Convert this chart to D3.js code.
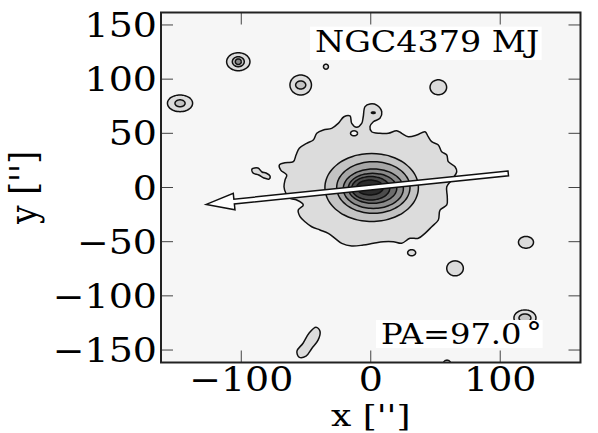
<!DOCTYPE html>
<html><head><meta charset="utf-8">
<script src="https://cdn.jsdelivr.net/npm/d3@7"></script>
<style>html,body{margin:0;padding:0;background:#fff;} svg{display:block;}</style>
</head><body>
<svg id="chart" width="598" height="433"></svg>
<script>
// ---------- data (arcsec) ----------
const xTickValues = [-100, 0, 100];
const yTickValues = [-150, -100, -50, 0, 50, 100, 150];
const titleText = "NGC4379 MJ";
const paValue = 97.0;
const xLabelText = "x ['']";
const yLabelText = "y ['']";
const arrowTailLength = 107;
const arrowTipLength = 128;

// outer isophote (level 1)
const outerIsophote = [
  [-5.8,65.3],[-4.4,74.6],[-0.6,77.1],[4.6,76.1],[8.5,69.9],[7.1,63.9],[2.0,60.7],[-0.6,56.1],
  [0.7,51.5],[7.1,50.0],[13.6,50.0],[20.0,52.4],[23.9,50.0],[29.0,46.9],[35.5,48.4],[41.9,51.5],
  [44.4,46.9],[47.1,42.3],[52.2,39.2],[54.8,33.0],[58.7,30.0],[59.9,23.8],[65.1,19.2],[66.4,14.6],
  [62.5,6.9],[58.7,0.7],[59.1,-8.5],[58.7,-16.1],[53.5,-20.8],[52.2,-30.0],[47.1,-36.2],[41.9,-42.3],
  [36.7,-46.9],[30.3,-46.9],[23.9,-51.5],[17.4,-50.0],[9.7,-50.0],[2.0,-51.5],[-5.8,-53.1],[-14.7,-54.0],
  [-22.4,-51.5],[-27.6,-46.9],[-32.8,-42.3],[-39.2,-39.2],[-45.6,-36.2],[-50.8,-31.6],[-54.6,-26.9],
  [-56.0,-20.8],[-52.1,-16.1],[-57.2,-11.5],[-62.4,-10.0],[-65.5,-5.4],[-67.0,0.7],[-66.2,6.9],
  [-64.9,11.5],[-69.5,16.1],[-70.6,20.8],[-66.2,22.9],[-59.8,23.8],[-57.7,30.0],[-55.2,36.2],
  [-49.5,40.8],[-44.4,43.8],[-41.7,50.0],[-36.6,53.1],[-30.2,54.6],[-25.1,59.2],[-20.7,65.3],
  [-16.0,66.0],[-14.7,59.2],[-10.9,55.6],[-7.0,59.2]
];
// small elongated sources (level 1)
const peanutSource = [
  [-91.7,17.1],[-87.1,18.0],[-84.0,14.3],[-80.9,13.4],[-77.8,10.6],[-78.6,7.8],[-82.6,8.8],[-86.5,11.5],[-90.9,13.4]
];
const streakSource = [
  [-42.3,-128.9],[-39.2,-132.6],[-40.7,-140.9],[-45.4,-148.3],[-50.0,-155.7],[-55.4,-156.6],[-57.0,-151.0],[-52.3,-143.7],[-47.7,-134.5]
];
// nested elliptical isophotes of the galaxy: [level, cx, cy, rx, ry]
const coreIsophotes = [
  [2, 0.7, 0.0, 36.1, 31.4],
  [3, 2.0, 0.0, 28.3, 23.8],
  [4, 2.0, -1.1, 23.2, 18.2],
  [5, 1.4, -0.7, 18.7, 13.8],
  [6, 0.0, -0.7, 14.7, 10.8],
  [7, -0.6, 0.0, 10.3, 6.9]
];
// point sources: [level, cx, cy, rx, ry]
const starIsophotes = [
  [1,-102.3,116.1,9.0,8.3],[2,-102.3,116.1,4.6,4.6],[4,-102.3,116.1,2.3,2.6],
  [1,-54.1,94.6,8.3,9.2],[2,-54.1,94.6,3.9,3.7],
  [1,-147.3,77.7,9.7,7.7],[2,-147.3,77.7,3.9,3.2],
  [1,-34.6,111.5,1.9,2.3],
  [1,52.2,92.5,6.4,6.9],
  [2,2.0,69.0,1.5,0.7],
  [1,119.9,-50.6,5.8,5.4],
  [1,31.6,-60.2,3.1,2.8],
  [1,65.1,-74.6,6.4,6.9],
  [1,119.1,-120.4,8.5,7.4],[2,119.1,-120.4,4.6,3.7],
  [1,58.9,-163.5,3.1,4.2]
];
// depressions inside the outer isophote: [cx, cy, rx, ry]
const holeIsophotes = [[-12.9,50.0,2.7,2.3]];

// ---------- styles ----------
const levelGray = ["#f6f6f6","#dcdcdc","#c3c3c3","#a7a7a7","#8b8b8b","#6c6c6c","#4c4c4c","#2b2b2b"];
const FONT = "'DejaVu Serif', serif";
const STRETCH = 1.15;

const W = 598, H = 433;
const plot = {left:161, right:580.5, top:12.5, bottom:362.5};
const x = d3.scaleLinear().domain([-162,162]).range([plot.left, plot.right]);
const y = d3.scaleLinear().domain([-161.5,161.5]).range([plot.bottom, plot.top]);

const svg = d3.select("#chart");
svg.append("defs").append("clipPath").attr("id","clip")
  .append("rect").attr("x",plot.left).attr("y",plot.top)
  .attr("width",plot.right-plot.left).attr("height",plot.bottom-plot.top);

const g = svg.append("g").attr("clip-path","url(#clip)");
g.append("rect").attr("x",plot.left).attr("y",plot.top)
  .attr("width",plot.right-plot.left).attr("height",plot.bottom-plot.top)
  .attr("fill",levelGray[0]);

const smooth = d3.line().x(d=>x(d[0])).y(d=>y(d[1])).curve(d3.curveCatmullRomClosed.alpha(0.5));
const closed = d3.line().x(d=>x(d[0])).y(d=>y(d[1])).curve(d3.curveCardinalClosed.tension(0.2));
const angles = d3.range(0, 360, 6).map(a=>a*Math.PI/180);
function ellipsePts(cx,cy,rx,ry){ return angles.map(t=>[cx+rx*Math.cos(t), cy+ry*Math.sin(t)]); }

function drawShape(pts, fill, gen){
  g.append("path").attr("d",(gen||smooth)(pts)).attr("fill",fill)
    .attr("stroke","#111").attr("stroke-width",1.5).attr("stroke-linejoin","round");
}
// level 1 shapes
drawShape(outerIsophote, levelGray[1]);
drawShape(peanutSource, levelGray[1]);
drawShape(streakSource, levelGray[1]);
// holes
holeIsophotes.forEach(h=>drawShape(ellipsePts(h[0],h[1],h[2],h[3]), levelGray[0], closed));
// point sources, sorted by level
starIsophotes.slice().sort((a,b)=>a[0]-b[0]).forEach(s=>drawShape(ellipsePts(s[1],s[2],s[3],s[4]), levelGray[s[0]], closed));
// galaxy core
coreIsophotes.forEach(c=>drawShape(ellipsePts(c[1],c[2],c[3],c[4]), levelGray[c[0]], closed));

// PA arrow
(function(){
  const pa = paValue*Math.PI/180;
  const dir = [-Math.sin(pa), Math.cos(pa)];
  const tail = [x(-arrowTailLength*dir[0]), y(-arrowTailLength*dir[1])];
  const tip = [x(arrowTipLength*dir[0]), y(arrowTipLength*dir[1])];
  const dx = tip[0]-tail[0], dy = tip[1]-tail[1], L = Math.hypot(dx,dy);
  const ux = dx/L, uy = dy/L, nx = -uy, ny = ux;
  const hl = 28, hw = 8.3, sw = 2.4;
  const bx = tip[0]-ux*hl, by = tip[1]-uy*hl;
  const pts = [
    [tail[0]+nx*sw, tail[1]+ny*sw],[bx+nx*sw, by+ny*sw],[bx+nx*hw, by+ny*hw],tip,
    [bx-nx*hw, by-ny*hw],[bx-nx*sw, by-ny*sw],[tail[0]-nx*sw, tail[1]-ny*sw]
  ];
  g.append("path").attr("d","M"+pts.map(p=>p.join(",")).join("L")+"Z")
    .attr("fill","#fff").attr("stroke","#111").attr("stroke-width",1.5).attr("stroke-linejoin","miter");
})();

// text boxes
function stretchedText(parent, tx, ty, txt, size, anchor, stretch){
  return parent.append("text").attr("transform",`translate(${tx},${ty}) scale(${stretch||STRETCH},1)`)
    .attr("text-anchor",anchor||"start").attr("font-family",FONT).attr("font-size",size)
    .attr("fill","#000").text(txt);
}
g.append("rect").attr("x",310).attr("y",26.7).attr("width",231.7).attr("height",33.3).attr("fill","#fff");
stretchedText(g, 315, 51.7, titleText, 29);
g.append("rect").attr("x",376).attr("y",320).attr("width",166.7).attr("height",28).attr("fill","#fff");
const paT = stretchedText(g, 381, 344, "PA=" + paValue.toFixed(1), 28);
paT.append("tspan").attr("dx",4).attr("dy",-2).attr("font-size",27).text("°");

// ticks
const tickG = svg.append("g").attr("stroke","#444").attr("stroke-width",1);
const TL = 12;
xTickValues.forEach(v=>{
  tickG.append("line").attr("x1",x(v)).attr("x2",x(v)).attr("y1",plot.bottom).attr("y2",plot.bottom-TL);
  tickG.append("line").attr("x1",x(v)).attr("x2",x(v)).attr("y1",plot.top).attr("y2",plot.top+TL);
});
yTickValues.forEach(v=>{
  tickG.append("line").attr("y1",y(v)).attr("y2",y(v)).attr("x1",plot.left).attr("x2",plot.left+TL);
  tickG.append("line").attr("y1",y(v)).attr("y2",y(v)).attr("x1",plot.right).attr("x2",plot.right-TL);
});
// frame
svg.append("rect").attr("x",plot.left).attr("y",plot.top)
  .attr("width",plot.right-plot.left).attr("height",plot.bottom-plot.top)
  .attr("fill","none").attr("stroke","#222").attr("stroke-width",2);

// tick labels
const fmt = v => (v<0 ? "\u2212" + Math.abs(v) : String(v));
const labG = svg.append("g");
xTickValues.forEach(v=>stretchedText(labG, x(v), 390.5, fmt(v), 33, "middle"));
yTickValues.forEach(v=>stretchedText(labG, 157, y(v)+12, fmt(v), 33, "end"));

// axis labels
stretchedText(labG, x(0), 425.5, xLabelText, 29.5, "middle", 1.22);
labG.append("text").attr("transform",`translate(36,${y(0)}) scale(${STRETCH},1) rotate(-90)`)
  .attr("text-anchor","middle").attr("font-family",FONT).attr("font-size",33).text(yLabelText);
</script>
</body></html>
